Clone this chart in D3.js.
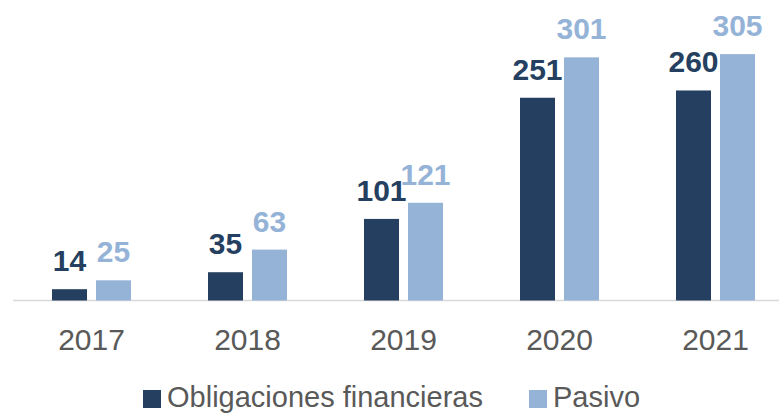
<!DOCTYPE html>
<html>
<head>
<meta charset="utf-8">
<script src="https://cdn.jsdelivr.net/npm/d3@7"></script>
<style>
html,body{margin:0;padding:0;background:#fff;}
svg{display:block;}
</style>
</head>
<body>
<svg id="chart" width="779" height="413"></svg>
<script>
const categories = ["2017", "2018", "2019", "2020", "2021"];
const seriesNames = ["Obligaciones financieras", "Pasivo"];
const obligaciones = [14, 35, 101, 251, 260];
const pasivo = [25, 63, 121, 301, 305];
const colors = ["#243F60", "#95B3D7"];

const svg = d3.select("#chart");
const font = "'Liberation Sans', Arial, sans-serif";

const x0 = d3.scaleBand().domain(categories).range([13.5, 793.5]).padding(0);
const x1 = d3.scaleBand().domain(seriesNames).range([38.5, 117.5]).paddingInner(9/44).paddingOuter(0);
const y = d3.scaleLinear().domain([0, 372]).range([300.5, 0]);

const data = categories.map((c, i) => ({cat: c, vals: [
  {key: seriesNames[0], v: obligaciones[i], color: colors[0]},
  {key: seriesNames[1], v: pasivo[i], color: colors[1]}
]}));

// axis line
svg.append("line").attr("x1", 13).attr("x2", 779).attr("y1", 300.5).attr("y2", 300.5)
  .attr("stroke", "#D9D9D9").attr("stroke-width", 1.5);

const g = svg.selectAll("g.cat").data(data).join("g").attr("class", "cat")
  .attr("transform", d => `translate(${x0(d.cat)},0)`);

g.selectAll("rect").data(d => d.vals).join("rect")
  .attr("x", d => x1(d.key)).attr("width", x1.bandwidth())
  .attr("y", d => y(d.v)).attr("height", d => y(0) - y(d.v))
  .attr("fill", d => d.color);

g.selectAll("text.val").data(d => d.vals).join("text").attr("class", "val")
  .attr("x", d => x1(d.key) + x1.bandwidth() / 2)
  .attr("y", d => y(d.v) - 18)
  .attr("text-anchor", "middle")
  .attr("font-family", font).attr("font-weight", "bold").attr("font-size", 30)
  .attr("fill", d => d.color)
  .text(d => d.v);

// x axis labels
const xAxis = d3.axisBottom(x0).tickSize(0).tickPadding(0);
const ax = svg.append("g").attr("transform", "translate(0,300.5)").call(xAxis);
ax.select(".domain").remove();
ax.selectAll("text").attr("font-family", font).attr("font-size", 30).attr("fill", "#595959")
  .attr("dy", null).attr("y", 49.5);

// legend
const legendX = [143, 529];
const lg = svg.selectAll("g.leg").data(seriesNames).join("g").attr("class", "leg")
  .attr("transform", (d, i) => `translate(${legendX[i]},390)`);
lg.append("rect").attr("width", 18).attr("height", 18).attr("fill", (d, i) => colors[i]);
lg.append("text").attr("x", 24).attr("y", 17)
  .attr("font-family", font).attr("font-size", 29).attr("fill", "#595959")
  .text(d => d);
</script>
</body>
</html>
